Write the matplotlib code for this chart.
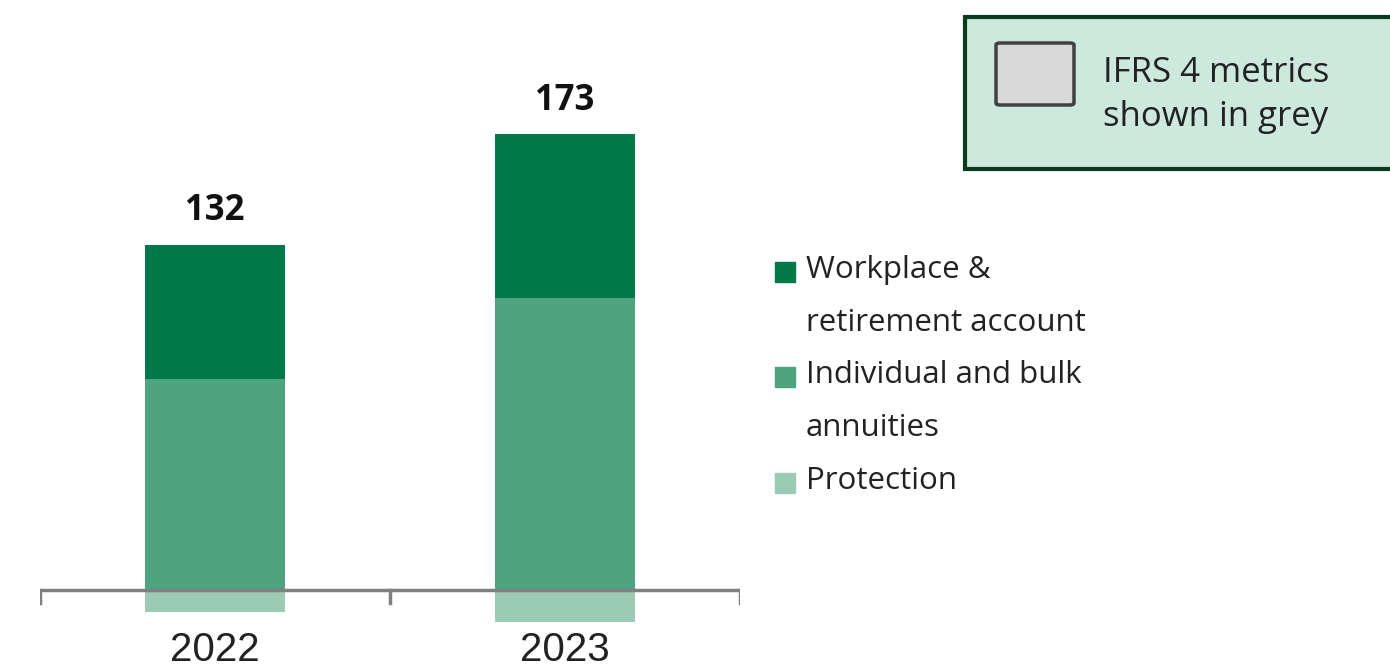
import matplotlib.pyplot as plt
import matplotlib.patches as mpatches
import numpy as np

years = ['2022', '2023']
workplace = [55, 67]
individual = [86, 119]
protection = [-9, -13]
totals = [132, 173]

series_labels = ['Workplace &\nretirement account', 'Individual and bulk\nannuities', 'Protection']
colors = ['#00784a', '#4ea381', '#9ccbb5']

W, H = 1390, 668
fig = plt.figure(figsize=(W / 100, H / 100), dpi=100)

def fx(px):
    return px / W

def fy(py):
    return 1 - py / H

# axes spans the full height, zero line at y=590 px
k = 2.45
ax = fig.add_axes([fx(40), 0, fx(700), 1])
ax.set_xlim(-0.5, 1.5)
ax.set_ylim(-(H - 590) / k, 590 / k)
ax.axis('off')

x = np.arange(len(years))
bw = 0.4
ax.bar(x, individual, bw, color=colors[1], zorder=2)
ax.bar(x, workplace, bw, bottom=individual, color=colors[0], zorder=2)
ax.bar(x, protection, bw, color=colors[2], zorder=2)

for xi, tot, w, ind in zip(x, totals, workplace, individual):
    ax.annotate(str(tot), (xi, w + ind), xytext=(0, 24), textcoords='offset points',
                ha='center', va='center', fontsize=25, fontweight='bold',
                family='Open Sans', color='#111111')

# baseline with category separators
ax.plot([-0.5, 1.5], [0, 0], color='#808080', lw=2.5, zorder=3, solid_capstyle='butt')
for xt in [-0.5, 0.5, 1.5]:
    ax.plot([xt, xt], [0, -13 / k], color='#808080', lw=2.5, zorder=3)

for xi, yr in zip(x, years):
    ax.text(xi, -60 / k, yr, ha='center', va='center', fontsize=29,
            family='Liberation Sans', color='#222222')

# legend: one swatch per series, lines spaced evenly
line_h = 52.7
row = 0
for lab, c in zip(series_labels, colors):
    y_first = 270 + row * line_h
    fig.add_artist(mpatches.Rectangle((fx(775), fy(y_first + 12)), fx(20), 20 / H,
                                      transform=fig.transFigure, color=c))
    for part in lab.split('\n'):
        fig.text(fx(806), fy(270 + row * line_h), part, ha='left', va='center',
                 fontsize=22.5, family='Open Sans', color='#222222')
        row += 1

# IFRS note box
fig.add_artist(mpatches.Rectangle((fx(965), fy(169)), fx(440), 152 / H,
                                  transform=fig.transFigure, facecolor='#cde8dc',
                                  edgecolor='#0b3a1f', lw=3))
fig.add_artist(mpatches.FancyBboxPatch((fx(996), fy(105)), fx(78), 62 / H,
                                       boxstyle='round,pad=0,rounding_size=0.003',
                                       transform=fig.transFigure, facecolor='#d9d9d9',
                                       edgecolor='#404040', lw=2.5))
fig.text(fx(1103), fy(73), 'IFRS 4 metrics', ha='left', va='center',
         fontsize=25, family='Open Sans', color='#222222')
fig.text(fx(1103), fy(117), 'shown in grey', ha='left', va='center',
         fontsize=25, family='Open Sans', color='#222222')

plt.savefig('out.png', dpi=100)
